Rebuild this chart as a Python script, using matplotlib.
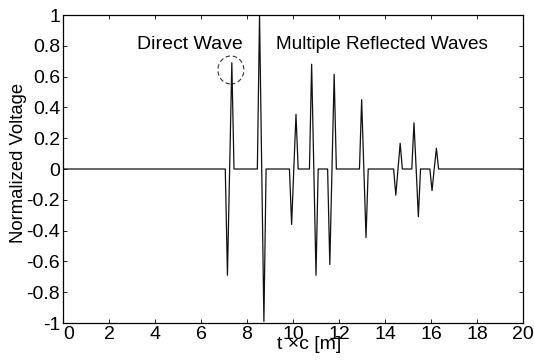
import numpy as np
import matplotlib.pyplot as plt
from matplotlib.patches import Ellipse

plt.rcParams['font.family'] = ['Liberation Sans', 'DejaVu Sans']

# Pulsos: cruce por cero central y amplitud de cada lobulo
pulse_mid = [7.245, 8.64, 10.035, 10.905, 11.695, 13.08, 14.565, 15.355, 16.14]
lobe1 = [-0.69, 1.0, -0.36, 0.68, -0.62, 0.45, -0.17, 0.30, -0.14]
lobe2 = [0.69, -0.99, 0.355, -0.69, 0.615, -0.445, 0.167, -0.31, 0.135]
half_width = 0.19

x_ticks = list(range(0, 21, 2))
y_ticks = [-1, -0.8, -0.6, -0.4, -0.2, 0, 0.2, 0.4, 0.6, 0.8, 1]
y_ticklabels = ['-1', '-0.8', '-0.6', '-0.4', '-0.2', '0', '0.2', '0.4', '0.6', '0.8', '1']

# Se arma la traza con vertices en los picos de cada pulso
t = [0.0]
v = [0.0]
for m, a1, a2 in zip(pulse_mid, lobe1, lobe2):
    w = half_width
    t += [m - w, m - w / 2, m, m + w / 2, m + w]
    v += [0.0, a1, 0.0, a2, 0.0]
t.append(20.0)
v.append(0.0)

fig = plt.figure(figsize=(5.34, 3.61), dpi=100)
ax = fig.add_axes([63 / 534, 1 - 323 / 361, 460 / 534, 308 / 361])

ax.plot(t, v, color='#111111', linewidth=0.9)

# Circulo punteado sobre el pico de la onda directa
circ = Ellipse((7.3, 0.643), width=26 / 23, height=28 / 154, fill=False,
               edgecolor='#333333', linestyle=(0, (4, 2.5)), linewidth=0.8)
ax.add_patch(circ)

fs = 14
ax.text(5.52, 0.81, 'Direct Wave', ha='center', va='center', fontsize=fs)
ax.text(13.85, 0.81, 'Multiple Reflected Waves', ha='center', va='center', fontsize=13.7)

ax.set_xlim(0, 20)
ax.set_ylim(-1, 1)
ax.set_xticks(x_ticks)
ax.set_yticks(y_ticks)
ax.set_yticklabels(y_ticklabels)
ax.tick_params(direction='in', length=3, width=0.6, labelsize=fs,
               top=True, right=True, pad=2)
ax.get_xticklabels()[0].set_ha('left')
for s in ax.spines.values():
    s.set_linewidth(0.9)

ax.set_xlabel('t \u00d7c [m]', fontsize=fs, va='top')
ax.xaxis.set_label_coords(0.535, -0.042)
ax.set_ylabel('Normalized Voltage', fontsize=13.3, va='center')
ax.yaxis.set_label_coords(-0.096, 0.52)

fig.savefig('out.png', dpi=100)
